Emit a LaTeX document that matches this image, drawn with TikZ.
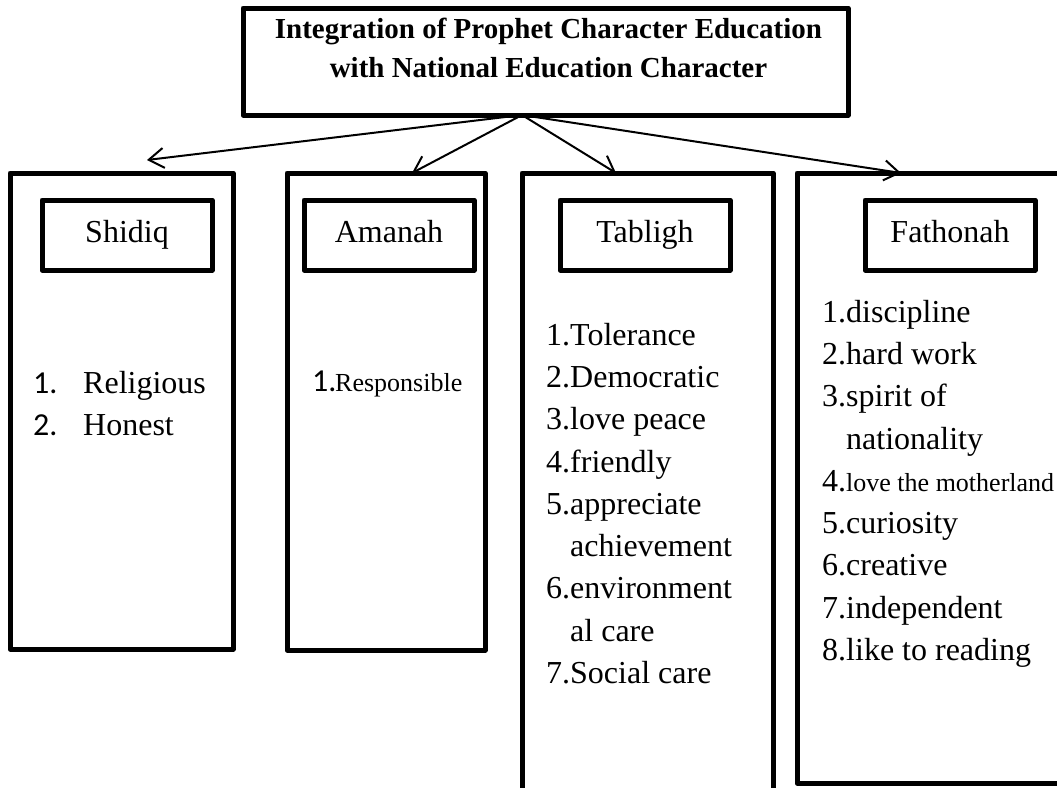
\documentclass[tikz,border=0pt]{standalone}
\usepackage{fontspec}
\setmainfont{Liberation Serif}
\newfontfamily\calfont{Carlito}
\usetikzlibrary{arrows.meta, positioning}
\definecolor{edge}{HTML}{000000}
\tikzset{
  col/.style={draw=edge, line width=5pt, line join=round, anchor=north west, inner sep=0pt, outer sep=0pt},
  hd/.style={draw=edge, line width=5pt, line join=round, minimum width=170pt, minimum height=70pt, inner sep=0pt, outer sep=0pt, text height=22pt, text depth=7pt, font=\fontsize{32}{38}\selectfont},
  lst/.style={anchor=north west, align=left, inner sep=0pt, font=\fontsize{32}{42.25}\selectfont},
  a/.style={-{Straight Barb[length=15pt, width=20pt]}, draw=edge, line width=2pt},
}
\newcommand{\num}[2][23pt]{\makebox[#1][l]{\calfont #2}}

\begin{document}
\begin{tikzpicture}[x=1pt, y=-1pt]
\useasboundingbox (0,0) rectangle (1057,787);
\node[col, minimum width=605pt, minimum height=107pt] (top) at (243,8) {};
\node[below=10pt of top.north, xshift=3pt, align=center, inner sep=0pt, font=\fontsize{29}{39}\selectfont\bfseries] (toptxt)
  {Integration of Prophet Character Education\\with National Education Character};

\node[col, minimum width=223pt, minimum height=476pt] (shidiq) at (10,173) {};
\node[col, minimum width=198pt, minimum height=477pt] (amanah) at (287,173) {};
\node[col, minimum width=251pt, minimum height=625pt] (tabligh) at (522,173) {};
\node[col, minimum width=275pt, minimum height=610pt] (fathonah) at (797,173) {};

\node[hd, below right=27pt and 32pt of shidiq.north west] (hs) {Shidiq};
\node[hd, below right=27pt and 17pt of amanah.north west] (ha) {Amanah};
\node[hd, below right=27pt and 38pt of tabligh.north west] (ht) {Tabligh};
\node[hd, below right=27pt and 68pt of fathonah.north west] (hf) {Fathonah};

\node[lst, below right=198pt and 23pt of shidiq.north west] (ls)
  {\num[50pt]{1.}Religious\\\num[50pt]{2.}Honest};
\node[lst, below right=198pt and 25pt of amanah.north west] (la)
  {\num{1.}{\fontsize{26}{30}\selectfont Responsible}};
\node[lst, below right=150pt and 24pt of tabligh.north west] (lt)
  {1.Tolerance\\2.Democratic\\3.love peace\\4.friendly\\5.appreciate\\\hphantom{5.}achievement\\6.environment\\\hphantom{6.}al care\\7.Social care};
\node[lst, below right=127pt and 25pt of fathonah.north west] (lf)
  {1.discipline\\2.hard work\\3.spirit of\\\hphantom{3.}nationality\\4.{\fontsize{26}{30}\selectfont love the motherland}\\5.curiosity\\6.creative\\7.independent\\8.like to reading};

\coordinate (hub) at (522,0 |- top.south);
\coordinate (ts) at (147,160);
\draw[a] (hub) -- (ts);
\draw[a] (hub) -- (412,0 |- amanah.north);
\draw[a] (hub) -- (616,0 |- tabligh.north);
\draw[a] (hub) -- (901,0 |- fathonah.north);
\end{tikzpicture}
\end{document}
